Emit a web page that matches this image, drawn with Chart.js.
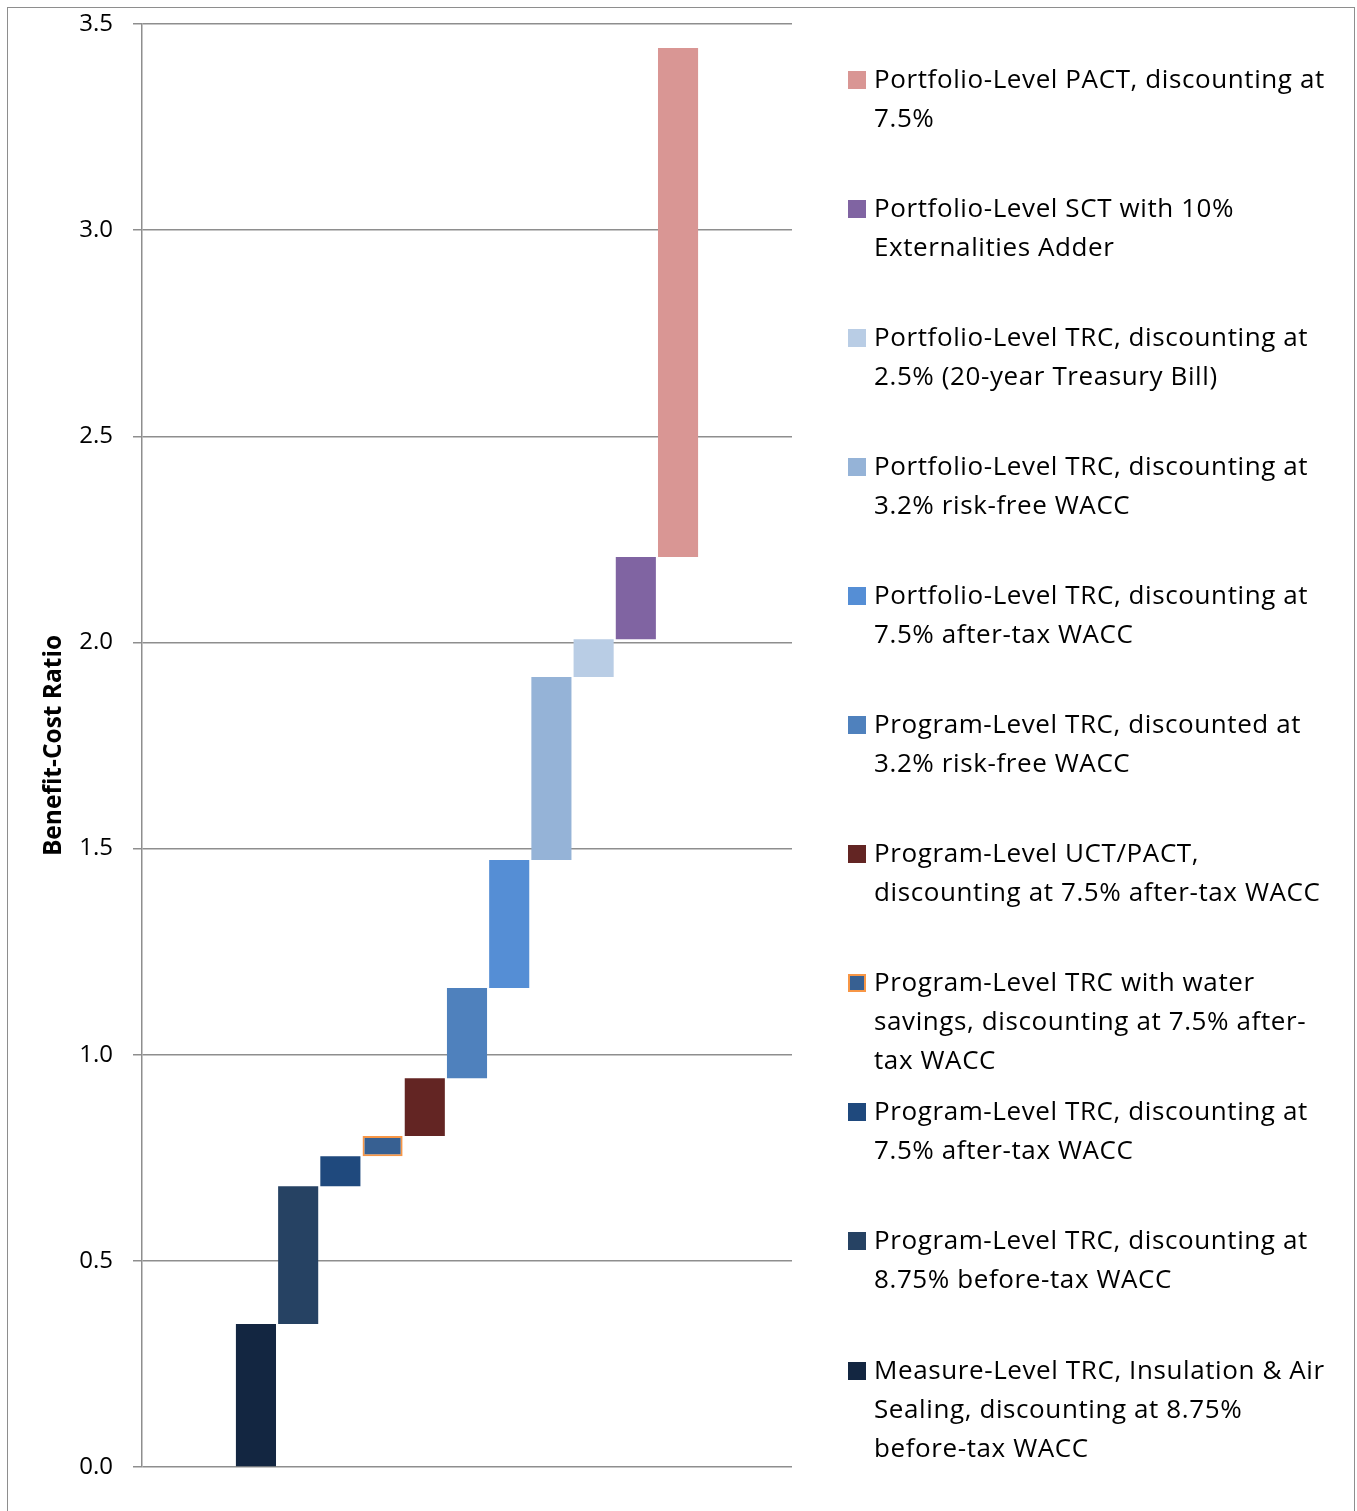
<!DOCTYPE html>
<html lang="en">
<head>
    <meta charset="UTF-8">
    <title>Benefit-Cost Ratio</title>
    <script src="https://cdn.jsdelivr.net/npm/chart.js"></script>
    <style>
        body {
            margin: 0;
            background: #ffffff;
            font-family: "Open Sans", sans-serif;
        }
        #wrap {
            position: relative;
            width: 1357px;
            height: 1511px;
            overflow: hidden;
        }
        #frame {
            position: absolute;
            left: 7px;
            top: 7px;
            width: 1346px;
            height: 1520px;
            border: 1.5px solid #8e8e8e;
        }
        canvas {
            position: absolute;
            left: 0;
            top: 0;
        }
        .item {
            position: absolute;
            left: 848px;
            font-size: 26px;
            letter-spacing: 0.6px;
            line-height: 39px;
            color: #000;
        }
        .item .box {
            position: absolute;
            left: 0;
            top: 12px;
            width: 18px;
            height: 18px;
            box-sizing: border-box;
        }
        .item .txt {
            margin-left: 26px;
            white-space: pre;
        }
    </style>
</head>
<body>
<div id="wrap">
    <div id="frame"></div>
    <canvas id="chart" width="1357" height="1511"></canvas>
    <div id="legend"></div>
</div>
<script>
    // one bar per test, left to right
    const labels = [
        'Measure-Level TRC, Insulation & Air\nSealing, discounting at 8.75%\nbefore-tax WACC',
        'Program-Level TRC, discounting at\n8.75% before-tax WACC',
        'Program-Level TRC, discounting at\n7.5% after-tax WACC',
        'Program-Level TRC with water\nsavings, discounting at 7.5% after-\ntax WACC',
        'Program-Level UCT/PACT,\ndiscounting at 7.5% after-tax WACC',
        'Program-Level TRC, discounted at\n3.2% risk-free WACC',
        'Portfolio-Level TRC, discounting at\n7.5% after-tax WACC',
        'Portfolio-Level TRC, discounting at\n3.2% risk-free WACC',
        'Portfolio-Level TRC, discounting at\n2.5% (20-year Treasury Bill)',
        'Portfolio-Level SCT with 10%\nExternalities Adder',
        'Portfolio-Level PACT, discounting at\n7.5%'
    ];
    const barStart = [0, 0.347, 0.681, 0.754, 0.803, 0.943, 1.162, 1.472, 1.916, 2.008, 2.207];
    const barEnd   = [0.347, 0.681, 0.754, 0.803, 0.943, 1.162, 1.472, 1.916, 2.008, 2.207, 3.442];
    const colors = ['#132641', '#264263', '#1f497d', '#376092', '#632523', '#4f81bd',
                    '#558ed5', '#95b3d7', '#b9cde5', '#8064a2', '#d99694'];
    const borders = colors.map((c, i) => i === 3 ? '#f79646' : c);
    const borderWidths = colors.map((c, i) => i === 3 ? 2 : 0);
    const yTicks = [0, 0.5, 1.0, 1.5, 2.0, 2.5, 3.0, 3.5];

    const points = labels.map((l, i) => ({ x: i + 1, y: [barStart[i], barEnd[i]] }));

    new Chart(document.getElementById('chart'), {
        type: 'bar',
        data: {
            datasets: [{
                data: points,
                backgroundColor: colors,
                borderColor: borders,
                borderWidth: borderWidths,
                borderSkipped: false,
                barPercentage: 0.95,
                categoryPercentage: 1
            }]
        },
        options: {
            responsive: false,
            animation: false,
            layout: { padding: { top: 24, right: 565, bottom: 44, left: 0 } },
            plugins: { legend: { display: false }, tooltip: { enabled: false } },
            scales: {
                x: { type: 'linear', min: -1.7, max: 13.7, offset: false, display: false },
                y: {
                    min: 0,
                    max: 3.5,
                    afterFit: s => {
                        s.width = 142;
                        s.paddingTop = 0;
                        s.paddingBottom = 0;
                    },
                    afterBuildTicks: s => { s.ticks = yTicks.map(v => ({ value: v })); },
                    grid: { color: '#8e8e8e', lineWidth: 1.5, tickLength: 9 },
                    border: { color: '#8e8e8e', width: 1.5 },
                    ticks: {
                        padding: 20,
                        color: '#000',
                        font: { family: 'Open Sans', size: 24 },
                        callback: v => v.toFixed(1)
                    },
                    title: {
                        display: true,
                        text: 'Benefit-Cost Ratio',
                        color: '#000',
                        padding: { top: 39, bottom: 0 },
                        font: { family: 'Open Sans', size: 24.5, weight: 'bold' }
                    }
                }
            }
        }
    });

    // legend, last bar on top
    const legend = document.getElementById('legend');
    for (let k = 0; k < labels.length; k++) {
        const i = labels.length - 1 - k;
        const item = document.createElement('div');
        item.className = 'item';
        item.style.top = (58.5 + k * 129.1) + 'px';
        const box = document.createElement('div');
        box.className = 'box';
        box.style.background = colors[i];
        if (borderWidths[i]) box.style.border = borderWidths[i] + 'px solid ' + borders[i];
        const txt = document.createElement('div');
        txt.className = 'txt';
        txt.textContent = labels[i];
        item.appendChild(box);
        item.appendChild(txt);
        legend.appendChild(item);
    }
</script>
</body>
</html>
